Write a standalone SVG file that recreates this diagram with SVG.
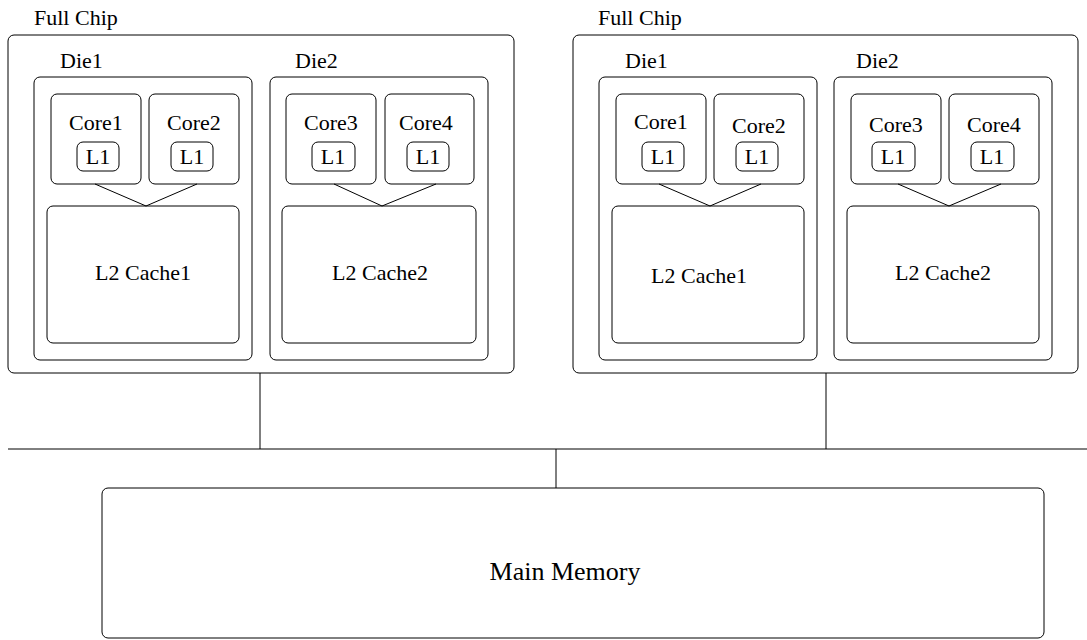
<svg xmlns="http://www.w3.org/2000/svg" width="1087" height="640" viewBox="0 0 1087 640">
<style>
rect{fill:none;stroke:#000;stroke-width:1}
line,polyline{fill:none;stroke:#000;stroke-width:1}
.c{text-anchor:middle}
</style>
<rect x="0" y="0" width="1087" height="640" style="fill:#fff;stroke:none"/>
<g id="chipA">
<text x="34" y="25" font-family="Liberation Serif, serif" font-size="22">Full Chip</text>
<rect x="8" y="35" width="506" height="338" rx="6"/>
</g>
<g id="dieA1">
<text x="60" y="68" font-family="Liberation Serif, serif" font-size="22">Die1</text>
<rect x="34" y="77" width="218" height="283" rx="6"/>
</g>
<g id="coreA1"><rect x="51" y="94" width="90" height="90" rx="6"/><text class="c" x="96" y="130" font-family="Liberation Serif, serif" font-size="22">Core1</text></g>
<g id="l1A1"><rect x="77" y="142" width="42" height="29" rx="6"/><text class="c" x="98" y="164" font-family="Liberation Serif, serif" font-size="22">L1</text></g>
<g id="coreA2"><rect x="149" y="94" width="90" height="90" rx="6"/><text class="c" x="194" y="130" font-family="Liberation Serif, serif" font-size="22">Core2</text></g>
<g id="l1A2"><rect x="171" y="142" width="42" height="29" rx="6"/><text class="c" x="192" y="164" font-family="Liberation Serif, serif" font-size="22">L1</text></g>
<g id="l2A1"><rect x="47" y="206" width="192" height="137" rx="6"/><text class="c" x="143" y="280" font-family="Liberation Serif, serif" font-size="22">L2 Cache1</text></g>
<g id="dieA2">
<text x="295" y="68" font-family="Liberation Serif, serif" font-size="22">Die2</text>
<rect x="270" y="77" width="218" height="283" rx="6"/>
</g>
<g id="coreA3"><rect x="286" y="94" width="90" height="90" rx="6"/><text class="c" x="331" y="130" font-family="Liberation Serif, serif" font-size="22">Core3</text></g>
<g id="l1A3"><rect x="312" y="142" width="43" height="29" rx="6"/><text class="c" x="333" y="164" font-family="Liberation Serif, serif" font-size="22">L1</text></g>
<g id="coreA4"><rect x="385" y="94" width="89" height="90" rx="6"/><text class="c" x="426" y="130" font-family="Liberation Serif, serif" font-size="22">Core4</text></g>
<g id="l1A4"><rect x="407" y="142" width="42" height="29" rx="6"/><text class="c" x="428" y="164" font-family="Liberation Serif, serif" font-size="22">L1</text></g>
<g id="l2A2"><rect x="282" y="206" width="194" height="137" rx="6"/><text class="c" x="380" y="280" font-family="Liberation Serif, serif" font-size="22">L2 Cache2</text></g>

<g id="chipB">
<text x="598" y="25" font-family="Liberation Serif, serif" font-size="22">Full Chip</text>
<rect x="573" y="35" width="505" height="338" rx="6"/>
</g>
<g id="dieB1">
<text x="625" y="68" font-family="Liberation Serif, serif" font-size="22">Die1</text>
<rect x="599" y="77" width="218" height="283" rx="6"/>
</g>
<g id="coreB1"><rect x="616" y="94" width="90" height="90" rx="6"/><text class="c" x="661" y="129" font-family="Liberation Serif, serif" font-size="22">Core1</text></g>
<g id="l1B1"><rect x="642" y="142" width="42" height="29" rx="6"/><text class="c" x="663" y="164" font-family="Liberation Serif, serif" font-size="22">L1</text></g>
<g id="coreB2"><rect x="714" y="94" width="90" height="90" rx="6"/><text class="c" x="759" y="133" font-family="Liberation Serif, serif" font-size="22">Core2</text></g>
<g id="l1B2"><rect x="736" y="142" width="42" height="29" rx="6"/><text class="c" x="757" y="164" font-family="Liberation Serif, serif" font-size="22">L1</text></g>
<g id="l2B1"><rect x="612" y="206" width="192" height="137" rx="6"/><text class="c" x="699" y="283" font-family="Liberation Serif, serif" font-size="22">L2 Cache1</text></g>
<g id="dieB2">
<text x="856" y="68" font-family="Liberation Serif, serif" font-size="22">Die2</text>
<rect x="834" y="77" width="218" height="283" rx="6"/>
</g>
<g id="coreB3"><rect x="851" y="94" width="90" height="90" rx="6"/><text class="c" x="896" y="132" font-family="Liberation Serif, serif" font-size="22">Core3</text></g>
<g id="l1B3"><rect x="872" y="142" width="43" height="29" rx="6"/><text class="c" x="893" y="164" font-family="Liberation Serif, serif" font-size="22">L1</text></g>
<g id="coreB4"><rect x="949" y="94" width="90" height="90" rx="6"/><text class="c" x="994" y="132" font-family="Liberation Serif, serif" font-size="22">Core4</text></g>
<g id="l1B4"><rect x="971" y="142" width="43" height="29" rx="6"/><text class="c" x="992" y="164" font-family="Liberation Serif, serif" font-size="22">L1</text></g>
<g id="l2B2"><rect x="847" y="206" width="192" height="137" rx="6"/><text class="c" x="943" y="280" font-family="Liberation Serif, serif" font-size="22">L2 Cache2</text></g>

<g id="memory"><rect x="102" y="488" width="942" height="150" rx="6"/><text class="c" x="565" y="580" font-family="Liberation Serif, serif" font-size="26">Main Memory</text></g>

<g id="connectors">
<polyline points="95,184 146,206 197,184"/>
<polyline points="334,184 382,206 436,184"/>
<polyline points="659,184 710,206 761,184"/>
<polyline points="898,184 949,206 1001,184"/>
<line x1="260" y1="373" x2="260" y2="449"/>
<line x1="826" y1="373" x2="826" y2="449"/>
<line x1="8" y1="449" x2="1087" y2="449"/>
<line x1="556" y1="449" x2="556" y2="488"/>
</g>
</svg>
